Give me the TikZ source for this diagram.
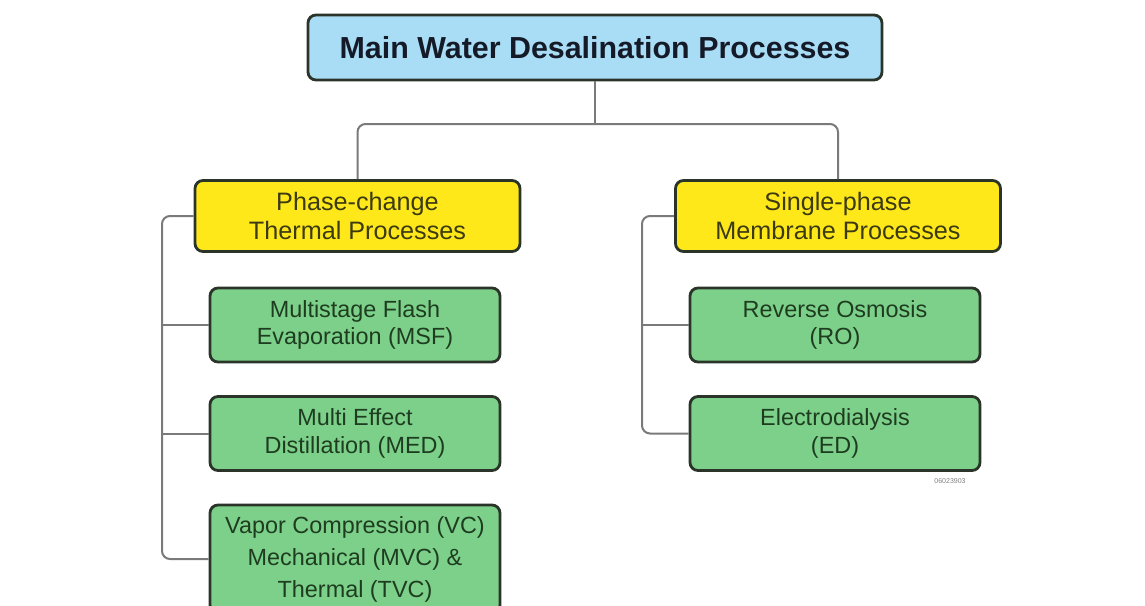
\documentclass[tikz,border=0pt]{standalone}
\usepackage{fontspec}
\setmainfont{Liberation Sans}
\definecolor{titleblue}{HTML}{A9DDF5}
\definecolor{groupyellow}{HTML}{FFE81A}
\definecolor{procgreen}{HTML}{7DD08A}
\definecolor{edgedark}{HTML}{2B3428}
\definecolor{linegray}{HTML}{7A7A7A}
\definecolor{titletext}{HTML}{141A28}
\definecolor{grouptext}{HTML}{3C3A12}
\definecolor{proctext}{HTML}{1E3D20}

\begin{document}
\begin{tikzpicture}[x=0.5pt,y=-0.5pt,
  box/.style={draw=edgedark,line width=1.4pt,rounded corners=4pt,align=center,inner sep=0pt},
  mainbox/.style={box,fill=titleblue,minimum width=287pt,minimum height=32.5pt,
    font=\fontsize{15.2}{18}\selectfont\bfseries,text=titletext},
  groupbox/.style={box,fill=groupyellow,minimum width=162.5pt,minimum height=35.5pt,
    font=\fontsize{12.6}{14.5}\selectfont,text=grouptext},
  procbox/.style={box,fill=procgreen,minimum width=145pt,minimum height=37pt,
    font=\fontsize{11.7}{13.8}\selectfont,text=proctext},
  link/.style={draw=linegray,line width=1pt,rounded corners=4pt}]
\useasboundingbox (0,0) rectangle (1145,605);
\clip (0,0) rectangle (1145,605);
\fill[white] (0,0) rectangle (1145,605);
% Top level
\node[mainbox] (main) at (595,47.5) {Main Water Desalination Processes};
\coordinate (split) at (595,124);
% Two groups
\node[groupbox] (thermal) at (357.5,216) {Phase-change\\Thermal Processes};
\node[groupbox] (membrane) at (838,216) {Single-phase\\Membrane Processes};
% Thermal processes
\node[procbox] (msf) at (355,325) {Multistage Flash\\Evaporation (MSF)};
\node[procbox] (med) at (355,433.5) {Multi Effect\\Distillation (MED)};
\node[procbox,minimum height=54pt,font=\fontsize{11.7}{16}\selectfont] (vc) at (355,559)
  {Vapor Compression (VC)\\Mechanical (MVC) \&\\Thermal (TVC)};
% Membrane processes
\node[procbox] (ro) at (835,325) {Reverse Osmosis\\(RO)};
\node[procbox] (ed) at (835,433.5) {Electrodialysis\\(ED)};
\node[font=\fontsize{3.5}{4}\selectfont,text=gray] (code) at (950,481) {06023903};
% Connectors
\coordinate (lspine) at (162,0);
\coordinate (rspine) at (642,0);
\draw[link] (main.south) -- (split);
\draw[link] (thermal.north) |- (split) -| (membrane.north);
\draw[link] (thermal.west) -| (lspine |- vc.west) -- (vc.west);
\draw[link] (lspine |- msf.west) -- (msf.west);
\draw[link] (lspine |- med.west) -- (med.west);
\draw[link] (membrane.west) -| (rspine |- ed.west) -- (ed.west);
\draw[link] (rspine |- ro.west) -- (ro.west);
\end{tikzpicture}
\end{document}
